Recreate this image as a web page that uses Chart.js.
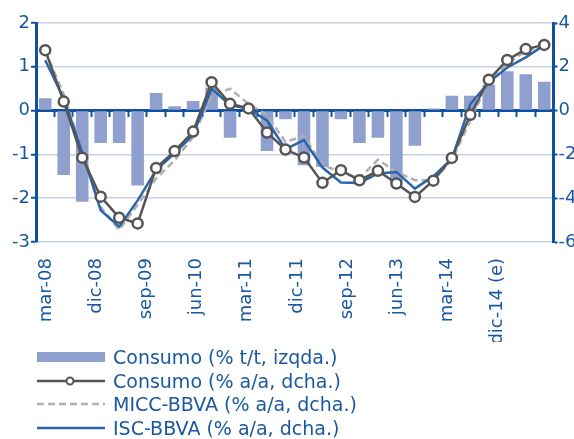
<!DOCTYPE html>
<html>
<head>
<meta charset="utf-8">
<script src="https://cdn.jsdelivr.net/npm/chart.js@4.4.1/dist/chart.umd.min.js"></script>
<style>
  html, body { margin: 0; padding: 0; background: #fff; }
  #wrap { position: relative; width: 574px; height: 439px; }
  #legend { position: absolute; left: 37px; top: 345px; font: 19px "DejaVu Sans", sans-serif; color: #1a58a0; }
  .row { display: flex; align-items: center; height: 23.8px; white-space: nowrap; }
  .row svg { margin-right: 8px; flex: none; }
</style>
</head>
<body>
<div id="wrap">
  <canvas id="chart" width="574" height="439"></canvas>
  <div id="legend"></div>
</div>
<script>
const quarters = ['mar-08', 'jun-08', 'sep-08', 'dic-08', 'mar-09', 'jun-09', 'sep-09', 'dic-09',
  'mar-10', 'jun-10', 'sep-10', 'dic-10', 'mar-11', 'jun-11', 'sep-11', 'dic-11',
  'mar-12', 'jun-12', 'sep-12', 'dic-12', 'mar-13', 'jun-13', 'sep-13', 'dic-13',
  'mar-14', 'jun-14', 'sep-14', 'dic-14'];
const axisLabels = ['mar-08', 'dic-08', 'sep-09', 'jun-10', 'mar-11', 'dic-11', 'sep-12', 'jun-13', 'mar-14', 'dic-14 (e)'];

// % t/t, left axis
const consumoTT = [0.28, -1.47, -2.08, -0.74, -0.74, -1.71, 0.40, 0.10, 0.22, 0.53, -0.62, -0.03,
  -0.92, -0.20, -1.25, -1.29, -0.20, -0.74, -0.62, -1.65, -0.80, 0.05, 0.34, 0.34, 0.59, 0.90, 0.83, 0.66];
// % a/a, right axis
const consumoAA = [2.76, 0.41, -2.15, -3.93, -4.89, -5.15, -2.62, -1.85, -0.96, 1.3, 0.31, 0.1,
  -1.0, -1.78, -2.14, -3.3, -2.72, -3.18, -2.75, -3.33, -3.94, -3.2, -2.16, -0.19, 1.41, 2.31, 2.81, 3.0];
const micc = [2.73, 0.75, -1.81, -4.4, -5.45, -4.3, -3.1, -2.27, -1.21, 0.69, 1.0, 0.31,
  -0.2, -1.44, -1.15, -2.5, -2.8, -3.1, -2.24, -2.8, -3.18, -3.18, -2.27, -0.45, 1.37, 2.13, 2.73, 2.96];
const isc = [2.3, 0.55, -1.9, -4.55, -5.3, -4.1, -2.72, -1.95, -1.1, 1.0, 0.25, 0.08,
  -0.45, -1.76, -1.35, -2.6, -3.28, -3.3, -2.87, -2.8, -3.56, -3.0, -2.2, 0.3, 1.29, 1.97, 2.43, 2.99];

const barColor = '#8fa0cf';
const gray = '#555555';
const lightGray = '#b0b0b0';
const blue = '#2b64ab';
const axisBlue = '#0f519e';
const textBlue = '#1a58a0';
const gridColor = '#c8d0e8';

Chart.defaults.font.family = '"DejaVu Sans", sans-serif';
Chart.defaults.font.size = 18;
Chart.defaults.color = textBlue;

const chart = new Chart(document.getElementById('chart'), {
  type: 'bar',
  data: {
    labels: quarters,
    datasets: [
      { label: 'Consumo (% t/t, izqda.)', data: consumoTT, backgroundColor: barColor,
        yAxisID: 'y', barPercentage: 0.68, categoryPercentage: 1, order: 4 },
      { type: 'line', label: 'Consumo (% a/a, dcha.)', data: consumoAA, yAxisID: 'y1',
        borderColor: gray, borderWidth: 2.5, pointRadius: 5, pointBorderWidth: 2.5,
        pointBackgroundColor: '#fff', pointBorderColor: gray, tension: 0, order: 1 },
      { type: 'line', label: 'MICC-BBVA (% a/a, dcha.)', data: micc, yAxisID: 'y1',
        borderColor: lightGray, borderWidth: 2.5, borderDash: [7, 4], pointRadius: 0, tension: 0, order: 3 },
      { type: 'line', label: 'ISC-BBVA (% a/a, dcha.)', data: isc, yAxisID: 'y1',
        borderColor: blue, borderWidth: 2.5, pointRadius: 0, tension: 0, order: 2 }
    ]
  },
  options: {
    responsive: false,
    animation: false,
    layout: { padding: { top: 23, left: 0, right: 0, bottom: 97 } },
    plugins: { legend: { display: false }, tooltip: { enabled: false } },
    scales: {
      x: {
        type: 'category', position: { y: 0 }, offset: true,
        grid: { offset: true, drawOnChartArea: false, tickLength: 5, tickColor: axisBlue, tickWidth: 2 },
        border: { color: axisBlue, width: 3 },
        ticks: { display: false }
      },
      // label axis: the quarter names sit a bit off the bars, as in the original
      xl: {
        type: 'linear', position: 'bottom', min: -0.2, max: 10.11, offset: false,
        afterBuildTicks: (s) => { s.ticks = axisLabels.map((_, i) => ({ value: i })); },
        afterFit: (s) => { s.height = 100; },
        grid: { display: false },
        border: { display: false },
        ticks: { autoSkip: false, maxRotation: 90, minRotation: 90, padding: 8, color: textBlue,
          callback: (v) => axisLabels[v] }
      },
      y: {
        position: 'left', min: -3, max: 2,
        ticks: { stepSize: 1, color: textBlue, padding: 1 },
        grid: { color: gridColor, lineWidth: 1.5, tickColor: axisBlue, tickLength: 5, tickWidth: 2 },
        border: { color: axisBlue, width: 3 },
        afterFit: (s) => { s.width = 36; }
      },
      y1: {
        position: 'right', min: -6, max: 4,
        ticks: { stepSize: 2, color: textBlue, padding: 1 },
        grid: { drawOnChartArea: false, tickColor: axisBlue, tickLength: 4, tickWidth: 2 },
        border: { color: axisBlue, width: 3 },
        afterFit: (s) => { s.width = 20.5; }
      }
    }
  }
});

// legend below the plot, one series per row
const legendIcons = [
  `<rect x="0" y="2" width="68" height="10" fill="${barColor}"/>`,
  `<line x1="0" y1="7" x2="68" y2="7" stroke="${gray}" stroke-width="2.5"/><circle cx="33" cy="7" r="3.5" fill="#fff" stroke="${gray}" stroke-width="2"/>`,
  `<line x1="0" y1="7" x2="68" y2="7" stroke="${lightGray}" stroke-width="2.5" stroke-dasharray="7 4"/>`,
  `<line x1="0" y1="7" x2="68" y2="7" stroke="${blue}" stroke-width="2.5"/>`
];
const legend = document.getElementById('legend');
chart.data.datasets.forEach((ds, i) => {
  const row = document.createElement('div');
  row.className = 'row';
  row.innerHTML = `<svg width="68" height="14">${legendIcons[i]}</svg><span>${ds.label}</span>`;
  legend.appendChild(row);
});
</script>
</body>
</html>
